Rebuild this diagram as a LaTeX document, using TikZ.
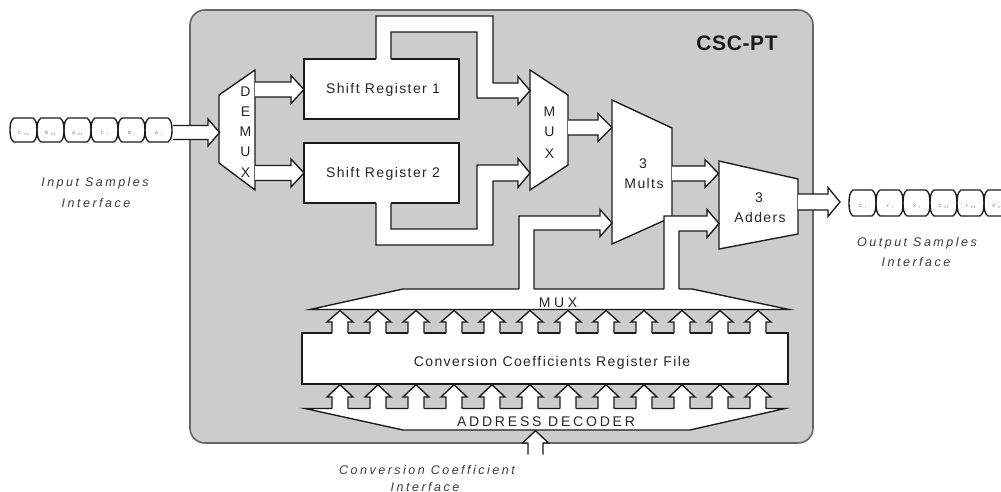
\documentclass[tikz,border=0pt]{standalone}
\usepackage{fontspec}
\setmainfont{Liberation Sans}
\newfontfamily\blk{Liberation Sans}[LetterSpace=10]
\newfontfamily\wde{Liberation Sans}[LetterSpace=20]
\newfontfamily\wdr{Liberation Sans}[LetterSpace=26]
\newfontfamily\bld{Liberation Sans}[LetterSpace=3]
\newfontfamily\itl{Liberation Sans}[LetterSpace=20]
\definecolor{linec}{HTML}{1A1A1A}
\definecolor{txtc}{HTML}{262626}
\definecolor{itc}{HTML}{3A3A3A}
\definecolor{boxgray}{HTML}{CCCCCC}
\definecolor{bordc}{HTML}{666666}
\definecolor{tinyc}{HTML}{707070}
\tikzset{
  ln/.style={draw=linec, line width=1.35pt, line join=miter},
  shapebox/.style={ln, fill=white},
  blocktext/.style={font=\blk\fontsize{14}{16}\selectfont, text=txtc, inner sep=0pt, anchor=base},
  itxt/.style={font=\itl\itshape\fontsize{12.5}{14}\selectfont, text=itc, inner sep=0pt, anchor=base},
  tinytext/.style={font=\fontsize{4.5}{5}\selectfont, text=tinyc, inner sep=0pt},
}
\newcommand\hfat[5]{%
  \pgfmathsetmacro\ymid{(#2+#3)/2}%
  \fill[white] (#1,#2) -- (#4,#2) -- (#4,#2-6.5) -- (#5,\ymid) -- (#4,#3+6.5) -- (#4,#3) -- (#1,#3) -- cycle;
  \draw[ln] (#1,#2) -- (#4,#2) -- (#4,#2-6.5) -- (#5,\ymid) -- (#4,#3+6.5) -- (#4,#3) -- (#1,#3);}
\newcommand\samplecell[5]{% x0, top, bottom, letter, subscript
  \pgfmathsetmacro\ym{(#2+#3)/2}%
  \draw[ln] (#1+4,#2) -- (#1+23,#2) .. controls (#1+26,#2+2) and (#1+27,#2+6) .. (#1+27,\ym)
     .. controls (#1+27,#3-6) and (#1+26,#3-2) .. (#1+23,#3) -- (#1+4,#3)
     .. controls (#1+1,#3-2) and (#1,#3-6) .. (#1,\ym)
     .. controls (#1,#2+6) and (#1+1,#2+2) .. (#1+4,#2) -- cycle;
  \node[tinytext] at (#1+13.5,\ym+3.5) {#4\hspace{3pt}\raisebox{-1.2pt}{\fontsize{3.5}{4}\selectfont #5}};}
\begin{document}
\begin{tikzpicture}[x=1pt,y=-1pt]
\useasboundingbox (0,0) rectangle (1001,492);
% main block
\draw[draw=bordc, line width=1.6pt, fill=boxgray, rounded corners=15pt] (190,10) rectangle (813,443);
\node[font=\bld\bfseries\fontsize{21}{24}\selectfont, text=linec, inner sep=0pt, anchor=base] (title) at (737,51) {CSC-PT};

% input / output sample chains
\foreach \i/\l/\s in {0/C/i+1,1/B/i+1,2/A/i+1,3/C/i,4/B/i,5/A/i}{
  \samplecell{10+27*\i}{118}{142}{\l}{\s}
}
\foreach \i/\l/\s in {0/Z/i,1/Y/i,2/X/i,3/Z/i+1,4/Y/i+1,5/X/i+1}{
  \samplecell{849+27*\i}{190}{216}{\l}{\s}
}

% blocks
\draw[shapebox] (219,95) -- (255,70) -- (255,190) -- (219,163) -- cycle;
\node[shapebox, minimum width=155pt, minimum height=60pt, inner sep=0pt] (sr1) at (381.5,89) {};
\node[shapebox, minimum width=155pt, minimum height=60pt, inner sep=0pt] (sr2) at (381.5,173) {};
\draw[shapebox] (530,70) -- (568,95) -- (568,165) -- (530,190) -- cycle;
\draw[shapebox] (612,100) -- (672,128) -- (672,217) -- (612,244) -- cycle;
\draw[shapebox] (719,161) -- (798,179) -- (798,234) -- (719,249) -- cycle;
\draw[shapebox] (310,309.5) -- (403,289) -- (692,289) -- (789,309.5) -- cycle;
\draw[draw=linec, line width=1.8pt] (308,309.5) -- (790,309.5);
\node[shapebox, minimum width=486pt, minimum height=51pt, inner sep=0pt] (rf) at (545,358.5) {};
\draw[shapebox] (305,408.5) -- (785,408.5) -- (690,430) -- (403,430) -- cycle;
\draw[draw=linec, line width=1.7pt] (305,408.5) -- (785,408.5);

% straight fat arrows
\hfat{173}{125.5}{139.5}{208}{219.5}
\hfat{255}{82}{97}{291}{304}
\hfat{255}{165.5}{180.5}{291}{304}
\hfat{568}{120}{135}{598}{612}
\hfat{672}{166}{181}{705}{718.5}
\hfat{798}{194}{210}{828}{840}

% SR1 -> MUX pipe
\fill[white] (376,60.3) -- (376,16) -- (493,16) -- (493,83) -- (518,83) -- (518,76.5) -- (530,90.5) -- (518,104.5) -- (518,98) -- (477,98) -- (477,32) -- (391,32) -- (391,60.3) -- cycle;
\draw[ln] (376,59) -- (376,16) -- (493,16) -- (493,83) -- (518,83) -- (518,76.5) -- (530,90.5) -- (518,104.5) -- (518,98) -- (477,98) -- (477,32) -- (391,32) -- (391,59);
% SR2 -> MUX pipe
\fill[white] (376,201.7) -- (376,245) -- (493,245) -- (493,181) -- (518,181) -- (518,187.5) -- (530,173) -- (518,158.5) -- (518,165) -- (477,165) -- (477,229) -- (391,229) -- (391,201.7) -- cycle;
\draw[ln] (376,203) -- (376,245) -- (493,245) -- (493,181) -- (518,181) -- (518,187.5) -- (530,173) -- (518,158.5) -- (518,165) -- (477,165) -- (477,229) -- (391,229) -- (391,203);
% bottom MUX -> Mults pipe
\fill[white] (519,290.3) -- (519,216) -- (600,216) -- (600,209.5) -- (612,223) -- (600,236.5) -- (600,230) -- (534,230) -- (534,290.3) -- cycle;
\draw[ln] (519,289) -- (519,216) -- (600,216) -- (600,209.5) -- (612,223) -- (600,236.5) -- (600,230) -- (534,230) -- (534,289);
% bottom MUX -> Adders pipe
\fill[white] (664,290.3) -- (664,216) -- (707,216) -- (707,209.5) -- (719,223.5) -- (707,237.5) -- (707,231) -- (679,231) -- (679,290.3) -- cycle;
\draw[ln] (664,289) -- (664,216) -- (707,216) -- (707,209.5) -- (719,223.5) -- (707,237.5) -- (707,231) -- (679,231) -- (679,289);

% up arrow rows
\foreach \cx in {340,378,...,758}{
  \fill[white] (\cx-8,334.7) -- (\cx-8,322) -- (\cx-13,322) -- (\cx,310.5) -- (\cx+13,322) -- (\cx+8,322) -- (\cx+8,334.7) -- cycle;
  \draw[ln] (\cx-8,333) -- (\cx-8,322) -- (\cx-13,322) -- (\cx,310.5) -- (\cx+13,322) -- (\cx+8,322) -- (\cx+8,333);
  \fill[white] (\cx-8,409.8) -- (\cx-8,397) -- (\cx-13,397) -- (\cx,384.7) -- (\cx+13,397) -- (\cx+8,397) -- (\cx+8,409.8) -- cycle;
  \draw[ln] (\cx-8,408.5) -- (\cx-8,397) -- (\cx-13,397) -- (\cx,384.7) -- (\cx+13,397) -- (\cx+8,397) -- (\cx+8,408.5);
}
% coefficient interface arrow
\fill[white] (528,455) -- (528,443) -- (522.5,443) -- (535.5,430.7) -- (548.5,443) -- (543,443) -- (543,455) -- cycle;
\draw[ln] (528,454.5) -- (528,443) -- (522.5,443) -- (535.5,430.7) -- (548.5,443) -- (543,443) -- (543,454.5);

% block texts
\node[blocktext] (sr1t) at (383,93.5) {Shift Register 1};
\node[blocktext] (sr2t) at (383,177.5) {Shift Register 2};
\foreach \l/\y in {D/97,E/117,M/137,U/157,X/177}{\node[blocktext] at (245.5,\y) {\l};}
\foreach \l/\y in {M/117,U/137,X/158}{\node[blocktext] at (549.5,\y) {\l};}
\node[blocktext] (m3) at (643,168) {3};
\node[blocktext] (mm) at (644,188) {Mults};
\node[blocktext] (a3) at (759,202) {3};
\node[blocktext] (aa) at (760,222) {Adders};
\node[blocktext, font=\wdr\fontsize{14}{16}\selectfont] (muxt) at (558,307) {MUX};
\node[blocktext] (rft) at (552,366) {Conversion Coefficients Register File};
\node[blocktext, font=\wde\fontsize{14}{16}\selectfont] (adt) at (546,426.5) {ADDRESS DECODER};

% interface labels
\node[itxt] (in1) at (95,186) {Input Samples};
\node[itxt] (in2) at (96,207) {Interface};
\node[itxt] (out1) at (917,246) {Output Samples};
\node[itxt] (out2) at (916,266) {Interface};
\node[itxt] (cc1) at (427,474) {Conversion Coefficient};
\node[itxt] (cc2) at (425,491) {Interface};
\end{tikzpicture}
\end{document}
